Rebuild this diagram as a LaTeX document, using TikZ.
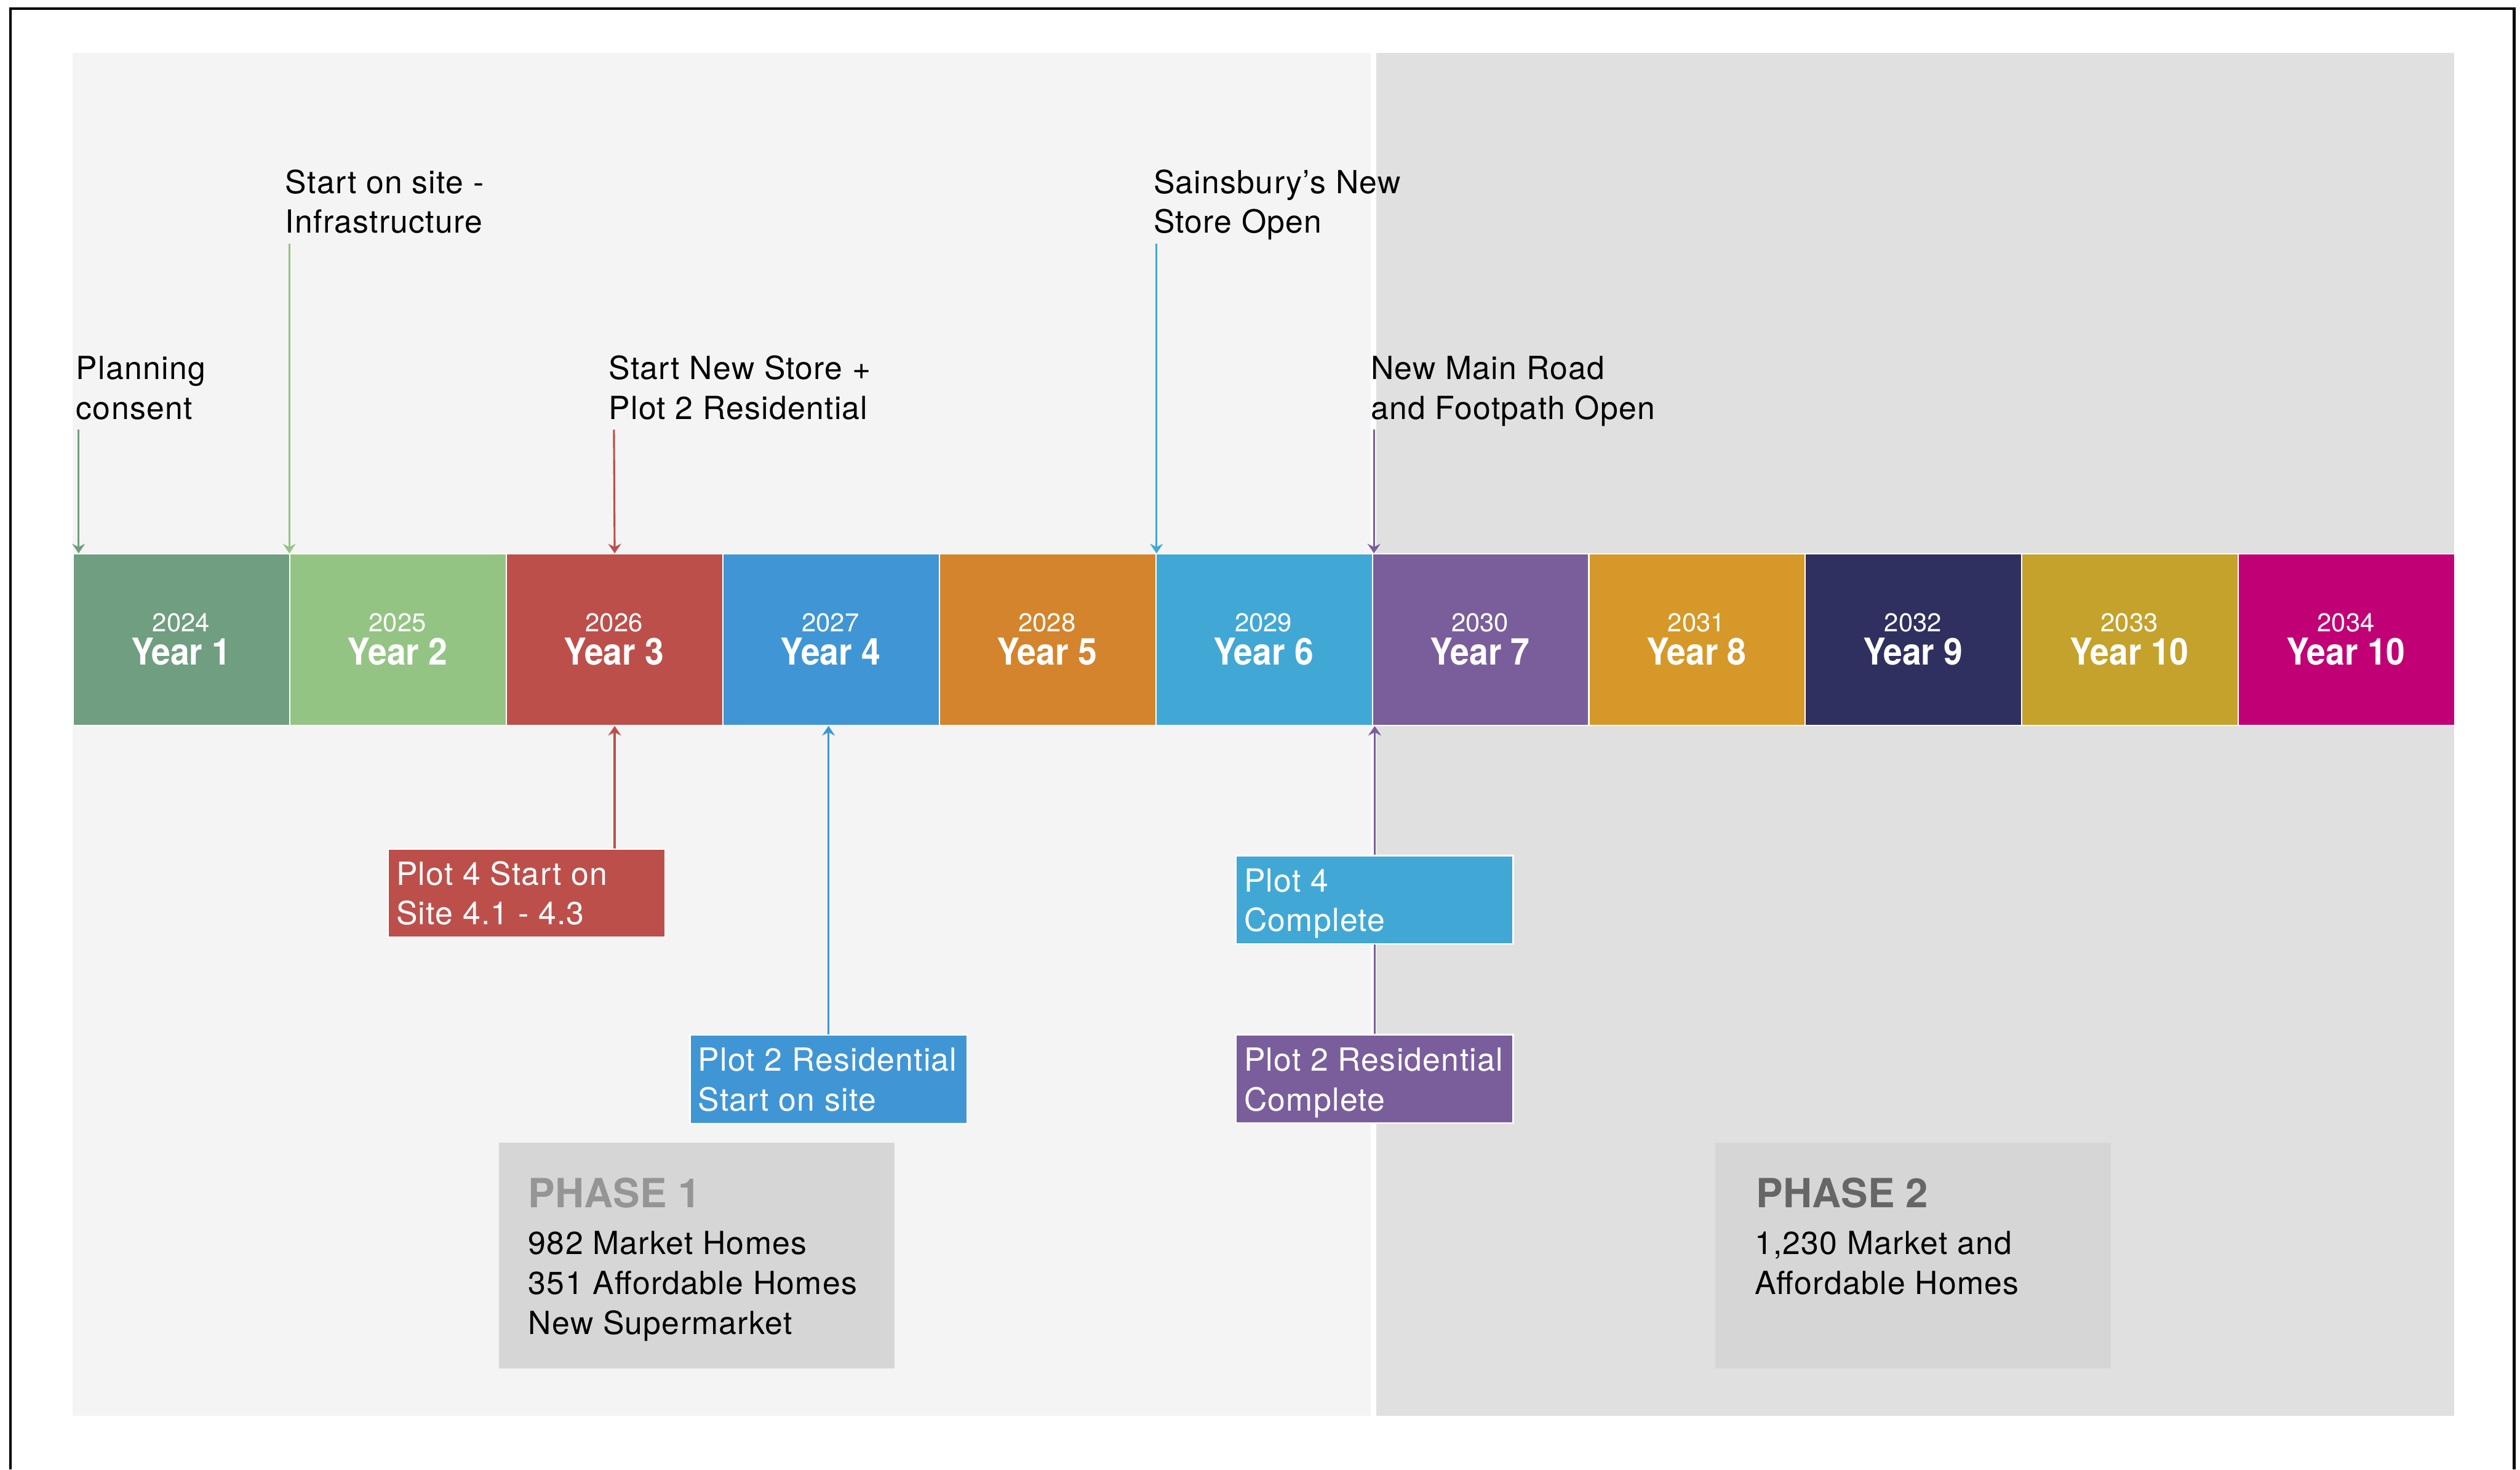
\documentclass[tikz,border=0pt]{standalone}
\usepackage{fontspec}
\setmainfont{TeX Gyre Heros}
\newfontfamily\lblfont[LetterSpace=2.5]{TeX Gyre Heros}
\newfontfamily\yrnfont[FakeStretch=0.92]{TeX Gyre Heros}
\usetikzlibrary{arrows.meta}
\definecolor{c1}{HTML}{709E80}
\definecolor{c2}{HTML}{94C484}
\definecolor{c3}{HTML}{BD4F4B}
\definecolor{c4}{HTML}{4096D5}
\definecolor{c5}{HTML}{D4842C}
\definecolor{c6}{HTML}{41A8D6}
\definecolor{c7}{HTML}{7A5E9B}
\definecolor{c8}{HTML}{D69829}
\definecolor{c9}{HTML}{2F2F60}
\definecolor{c10}{HTML}{C4A22C}
\definecolor{c11}{HTML}{C20075}
\definecolor{bglight}{HTML}{F4F4F4}
\definecolor{bgdark}{HTML}{E0E0E0}
\definecolor{phasebg}{HTML}{D6D6D6}
\definecolor{ph1}{HTML}{959595}
\definecolor{ph2}{HTML}{666666}
\tikzset{
  lbl/.style={inner sep=0pt, anchor=base west, font=\lblfont\fontsize{19.8}{24}\selectfont},
  wlbl/.style={lbl, text=white},
  yr/.style={inner sep=0pt, anchor=base, text=white, font=\fontsize{16}{18}\selectfont},
  yn/.style={inner sep=0pt, anchor=base, text=white, font=\yrnfont\bfseries\fontsize{23}{24}\selectfont},
  yearbox/.style={draw=white, line width=0.8pt, minimum width=134.7pt, minimum height=106.5pt, inner sep=0pt, anchor=north west},
  evbox/.style={draw=white, line width=0.9pt, minimum width=172.4pt, minimum height=55pt, inner sep=0pt, anchor=north west},
  phasebox/.style={fill=phasebg, minimum width=246.2pt, minimum height=140.5pt, inner sep=0pt, anchor=north west},
  phtitle/.style={inner sep=0pt, anchor=base west, font=\bfseries\fontsize{25}{28}\selectfont},
  arr/.style={line width=1.2pt, -{Stealth[length=6pt,width=8pt,inset=2pt]}},
  conn/.style={line width=1.2pt},
}
\begin{document}
\begin{tikzpicture}[x=1pt,y=-1pt]
\useasboundingbox (0,0) rectangle (1568,914.3);
% backgrounds
\fill[bglight] (45,33.1) rectangle (853,881);
\fill[bgdark] (856.5,33.1) rectangle (1527,881);
% frame
\draw[line width=1.7pt] (6.6,914.3) -- (6.6,5.3) -- (1564.3,5.3) -- (1564.3,914.3);
% phase boxes
\node[phasebox] (p1) at (310.2,710.5) {};
\node[phasebox] (p2) at (1067,710.5) {};
\node[phtitle, text=ph1] (p1t) at (328.6,751.2) {PHASE 1};
\node[lbl] (p1a) at (328.6,780.5) {982 Market Homes};
\node[lbl] (p1b) at (328.6,805.3) {351 Affordable Homes};
\node[lbl] (p1c) at (328.6,830.1) {New Supermarket};
\node[phtitle, text=ph2] (p2t) at (1092.6,751.2) {PHASE 2};
\node[lbl] (p2a) at (1091.6,780.5) {1,230 Market and};
\node[lbl] (p2b) at (1091.6,805.3) {Affordable Homes};
% timeline bar
\foreach \i/\col/\yy/\n in {0/c1/2024/1,1/c2/2025/2,2/c3/2026/3,3/c4/2027/4,4/c5/2028/5,5/c6/2029/6,6/c7/2030/7,7/c8/2031/8,8/c9/2032/9,9/c10/2033/10,10/c11/2034/10}{
  \node[yearbox, fill=\col] (y\i) at ({45.3+\i*134.7},344.3) {};
  \node[yr] (yt\i) at ({45.3+(\i+0.5)*134.7},393.1) {\yy};
  \node[yn] (yn\i) at ({45.3+(\i+0.5)*134.7},413.8) {Year \n};
}
% top labels and arrows
\node[lbl] (la1) at (47.2,236) {Planning};
\node[lbl] (la2) at (47.2,260.7) {consent};
\coordinate (aA) at (48.9,267.3);
\draw[arr, c1] (aA) -- (aA |- y0.north);

\node[lbl] (lb1) at (177.4,120.3) {Start on site -};
\node[lbl] (lb2) at (177.4,145) {Infrastructure};
\coordinate (aB) at (180,151.6);
\draw[arr, c2] (aB) -- (aB |- y1.north);

\node[lbl] (lc1) at (378.6,236) {Start New Store +};
\node[lbl] (lc2) at (378.6,260.7) {Plot 2 Residential};
\coordinate (aC) at (382,267.3);
\draw[arr, c3] (aC) -- (y2.north);

\node[lbl] (ld1) at (717.6,120.3) {Sainsbury’s New};
\node[lbl] (ld2) at (717.6,145) {Store Open};
\coordinate (aD) at (719.6,151.6);
\draw[arr, c6] (aD) -- (aD |- y5.north);

\node[lbl] (le1) at (852.8,236) {New Main Road};
\node[lbl] (le2) at (852.8,260.7) {and Footpath Open};
\coordinate (aE) at (854.9,267.3);
\draw[arr, c7] (aE) -- (aE |- y6.north);
% bottom event boxes
\node[evbox, fill=c3] (b1) at (241.2,527.8) {};
\node[wlbl] (b1a) at (246.4,550.6) {Plot 4 Start on};
\node[wlbl] (b1b) at (246.4,575.3) {Site 4.1 - 4.3};
\draw[arr, c3] (y2.south |- b1.north) -- (y2.south);

\node[evbox, fill=c4] (b2) at (428.9,643.5) {};
\node[wlbl] (b2a) at (434.1,666.4) {Plot 2 Residential};
\node[wlbl] (b2b) at (434.1,691.1) {Start on site};
\coordinate (b2arr) at (515.5,643.5);
\draw[arr, c4] (b2arr) -- (b2arr |- y3.south);

\node[evbox, fill=c6] (b3) at (768.7,531.8) {};
\node[wlbl] (b3a) at (773.9,554.8) {Plot 4};
\node[wlbl] (b3b) at (773.9,579.5) {Complete};

\node[evbox, fill=c7] (b4) at (768.7,643.3) {};
\node[wlbl] (b4a) at (773.9,666.3) {Plot 2 Residential};
\node[wlbl] (b4b) at (773.9,691) {Complete};
\draw[conn, c7] (b4.north) -- (b3.south);
\draw[arr, c7] (b3.north) -- (b3.north |- y6.south);
\end{tikzpicture}
\end{document}
